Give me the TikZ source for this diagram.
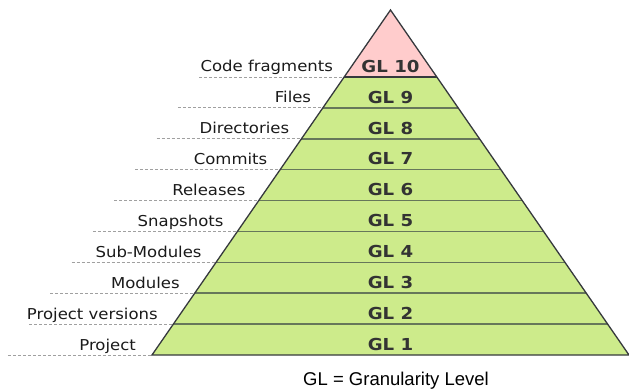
\documentclass[tikz,border=0pt]{standalone}
\usepackage{fontspec}
\usetikzlibrary{calc}
\setmainfont{DejaVu Sans}[FakeStretch=1.1]
\newfontfamily\captionfont{Liberation Sans}
\definecolor{levelgreen}{HTML}{CDEB8B}
\definecolor{toppink}{HTML}{FFCCCC}
\definecolor{edgedark}{HTML}{36393D}
\definecolor{sepline}{HTML}{66775A}
\definecolor{guidegray}{HTML}{A0A0A0}
\definecolor{labeltext}{HTML}{1A1A1A}
\definecolor{gltext}{HTML}{333333}
\begin{document}
\begin{tikzpicture}[x=1pt,y=-1pt,
  leveltag/.style={font=\fontsize{15}{18}\selectfont, text=labeltext, inner sep=0pt, anchor=base east},
  gltag/.style={font=\fontsize{16.5}{20}\selectfont\bfseries, text=gltext, inner sep=0pt, anchor=base},
  guide/.style={guidegray, line width=0.9pt, dash pattern=on 3pt off 2pt},
  separator/.style={sepline, line width=1.6pt},
  outline/.style={edgedark, line width=1.3pt, line join=miter}]
\useasboundingbox (0,0) rectangle (629,390);

% pyramid corners
\coordinate (apex) at (390.5,10);
\coordinate (bl) at (152,355);
\coordinate (br) at (629,355);
% top boundary of the green part
\coordinate (tl) at ($(apex)!67/345!(bl)$);
\coordinate (tr) at ($(apex)!67/345!(br)$);

% fills
\fill[toppink] (apex) -- (tl) -- (tr) -- cycle;
\fill[levelgreen] (tl) -- (tr) -- (br) -- (bl) -- cycle;

% level rows: separators, guide lines, names and GL tags
\foreach \lab [count=\j from 0] in {Code fragments, Files, Directories, Commits, Releases,
    Snapshots, Sub-Modules, Modules, Project versions, Project} {
  \pgfmathsetmacro\yb{77+\j*278/9}
  \pgfmathsetmacro\xl{390.5-(238.5/345)*(\yb-10)}
  \pgfmathsetmacro\xr{390.5+(238.5/345)*(\yb-10)}
  \pgfmathsetmacro\xs{199-\j*21.25}
  \pgfmathsetmacro\gap{11+5*\j/9}
  \pgfmathtruncatemacro\n{10-\j}
  \coordinate (el\j) at (\xl,\yb);
  \coordinate (er\j) at (\xr,\yb);
  \coordinate (gs\j) at (\xs,\yb);
  \ifnum\j>0 \ifnum\j<9 \draw[separator] (el\j) -- (er\j); \fi\fi
  \draw[guide] (gs\j) -- (el\j);
  \node[leveltag] (name\j) at (\xl-\gap,\yb-5) {\lab};
  \node[gltag] (gl\j) at (390.5,\yb-4.7) {GL \n};
}

% outlines
\draw[outline] (tl) -- (tr);
\draw[outline] (apex) -- (br) -- (bl) -- cycle;

% legend
\node[font=\captionfont\fontsize{18.5}{22}\selectfont, text=black, inner sep=0pt, anchor=base]
  (legend) at (396,385.5) {GL = Granularity Level};
\end{tikzpicture}
\end{document}
